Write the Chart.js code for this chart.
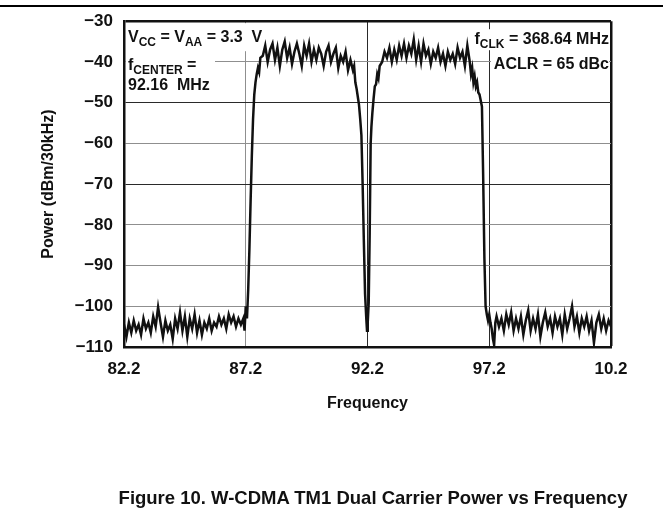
<!DOCTYPE html>
<html><head><meta charset="utf-8">
<script src="https://cdn.jsdelivr.net/npm/chart.js@4"></script>
<style>
html,body{margin:0;padding:0;background:#fff;}
#wrap{position:relative;width:671px;height:525px;overflow:hidden;}
canvas{position:absolute;left:0;top:0;}
#rule{position:absolute;left:0;top:5px;width:663px;height:2px;background:#000;}
#cap{position:absolute;left:0;width:746px;top:488px;text-align:center;font:bold 18.5px "Liberation Sans",Arial,sans-serif;line-height:20px;color:#111;white-space:nowrap;}
</style></head><body>
<div id="wrap"><canvas id="c" width="671" height="525"></canvas><div id="rule"></div><div id="cap">Figure 10. W-CDMA TM1 Dual Carrier Power vs Frequency</div></div>
<script>
const freqMHz = [
  82.2,82.3,82.4,82.5,82.6,82.7,82.8,82.9,83.0,83.1,83.2,83.3,83.4,83.5,83.6,83.7,83.8,83.9,84.0,84.1,
  84.2,84.3,84.4,84.5,84.6,84.7,84.8,84.9,85.0,85.1,85.2,85.3,85.4,85.5,85.6,85.7,85.8,85.9,86.0,86.1,
  86.2,86.3,86.4,86.5,86.6,86.7,86.8,86.9,87.0,87.1,87.15,87.2,
  87.25,87.3,87.35,87.4,87.45,87.5,87.55,87.6,87.65,87.7,87.75,87.8,87.9,
  88.0,88.1,88.2,88.3,88.4,88.5,88.6,88.7,88.8,88.9,89.0,89.1,89.2,89.3,89.4,89.5,89.6,89.7,89.8,89.9,
  90.0,90.1,90.2,90.3,90.4,90.5,90.6,90.7,90.8,90.9,91.0,91.1,91.2,91.3,91.4,91.5,
  91.6,91.65,91.7,91.75,91.8,91.85,91.9,91.95,92.0,92.05,92.1,92.15,92.18,92.21,92.25,92.29,92.33,92.36,
  92.4,92.45,92.5,92.55,92.6,92.65,92.7,92.8,92.9,
  93.0,93.1,93.2,93.3,93.4,93.5,93.6,93.7,93.8,93.9,94.0,94.1,94.2,94.3,94.4,94.5,94.6,94.7,94.8,94.9,
  95.0,95.1,95.2,95.3,95.4,95.5,95.6,95.7,95.8,95.9,96.0,96.1,96.2,96.3,96.4,
  96.45,96.5,96.55,96.6,96.65,96.7,96.75,96.8,96.85,96.9,96.95,97.0,97.05,97.1,97.15,97.2,97.25,97.3,97.35,97.4,97.45,
  97.5,97.6,97.7,97.8,97.9,98.0,98.1,98.2,98.3,98.4,98.5,98.6,98.7,98.8,98.9,99.0,99.1,99.2,99.3,99.4,
  99.5,99.6,99.7,99.8,99.9,100.0,100.1,100.2,100.3,100.4,100.5,100.6,100.7,100.8,100.9,101.0,101.1,101.2,101.3,101.4,
  101.5,101.6,101.7,101.8,101.9,102.0,102.1,102.2
];
const powerDbm = [
  -104.5,-107.5,-104,-106.5,-103.5,-106,-104.5,-107,-103,-105.5,-104,-106.5,-102.5,-105,-100.2,-104,-107.5,-103.5,-106,-104.5,
  -108,-103,-105.5,-101.5,-106,-102.5,-107.5,-103,-105.5,-102,-106.5,-103.5,-107,-104,-105.5,-103,-106,-104,-105,-102.5,
  -104.5,-103,-105.5,-102,-104,-102.5,-105,-103,-104.5,-103,-106,-100,
  -103,-96,-86,-74,-63,-54,-48,-45,-43,-41.5,-42.5,-39,-38.5,
  -36,-40,-37,-35.5,-39.5,-36.5,-41,-37,-35,-39,-36.5,-40.5,-37.5,-35.5,-38,-41,-36,-38.5,-35.5,-40,
  -37,-39.5,-36.5,-38,-41,-37.5,-36,-40,-38,-36.5,-41.5,-38.5,-40,-37.5,-42,-39.5,
  -42,-41,-45,-46.5,-48.5,-50.5,-54,-58,-70,-84,-97,-103,-106,-104,-99,-82,-60,-56,
  -52.5,-49,-46,-45.5,-43,-44,-41,-40,-37.5,
  -39,-36.5,-40,-37,-39.5,-36,-38.5,-35.5,-39,-36,-38,-34.5,-39.5,-36,-40,-35.5,-38.5,-37,-40.5,-37.5,
  -39,-36.5,-40,-38,-41,-37.5,-39.5,-38,-40.5,-36.5,-39,-37.5,-41,-36,-40,
  -43,-41.5,-45,-43.5,-46,-45,-47.5,-48,-49.5,-51,-68,-88,-100,-102,-103.5,-102,-104,-105.5,-108,-109.5,-104,
  -102.5,-105,-103,-106,-102,-104.5,-101.5,-106,-103,-105.5,-102.5,-107,-103.5,-101,-106,-103,-105.5,-102,-107.5,-104,
  -101.5,-105,-103,-106.5,-102.5,-105,-103,-107,-102,-105.5,-103,-100,-105,-102.5,-106.5,-103,-105,-102.5,-106,-103.5,
  -109,-104,-102,-105.5,-103,-106,-103.5,-105
];
const xTickValues = [82.2, 87.2, 92.2, 97.2, 102.2];
const xTickLabels = ['82.2', '87.2', '92.2', '97.2', '10.2'];
const yMin = -110, yMax = -30, yStep = 10;

const FONT = '"Liberation Sans", Arial, sans-serif';
const GRAY = '#8f8f8f', DARK = '#2a2a2a', BLACK = '#111';

function rich(ctx, parts, x, y, align) {
  const main = 'bold 16px ' + FONT, sub = 'bold 12px ' + FONT;
  let w = 0;
  parts.forEach(p => { ctx.font = p[1] ? sub : main; w += ctx.measureText(p[0]).width; });
  let cx = align === 'right' ? x - w : x;
  parts.forEach(p => {
    ctx.font = p[1] ? sub : main;
    ctx.fillText(p[0], cx, y + (p[1] ? 4 : 0));
    cx += ctx.measureText(p[0]).width;
  });
}

const notes = {
  id: 'notes',
  beforeDatasetsDraw(chart) {
    const {ctx, chartArea: a} = chart;
    ctx.save();
    ctx.fillStyle = '#fff';
    ctx.fillRect(a.left + 2, a.top + 2, 146, 28);
    ctx.fillRect(a.left + 2, a.top + 30, 89, 45);
    ctx.fillRect(a.right - 143, a.top + 8, 141, 21);
    ctx.fillRect(a.right - 120, a.top + 33, 118, 17);
    ctx.fillStyle = BLACK;
    ctx.textBaseline = 'alphabetic';
    ctx.textAlign = 'left';
    rich(ctx, [['V',0],['CC',1],[' = V',0],['AA',1],[' = 3.3  V',0]], a.left + 4, a.top + 21);
    rich(ctx, [['f',0],['CENTER',1],[' =',0]], a.left + 4, a.top + 49);
    rich(ctx, [['92.16  MHz',0]], a.left + 4, a.top + 69);
    rich(ctx, [['f',0],['CLK',1],[' = 368.64 MHz',0]], a.right - 2, a.top + 23, 'right');
    rich(ctx, [['ACLR = 65 dBc',0]], a.right - 2, a.top + 48, 'right');
    ctx.restore();
  }
};

const pts = freqMHz.map((f, i) => ({x: f, y: powerDbm[i]}));

new Chart(document.getElementById('c'), {
  type: 'line',
  data: { datasets: [{ data: pts, borderColor: BLACK, borderWidth: 2.5, pointRadius: 0, tension: 0, fill: false }] },
  options: {
    responsive: false, animation: false, devicePixelRatio: 1,
    layout: { padding: { left: 0, right: 60, top: 17, bottom: 112 } },
    plugins: { legend: { display: false }, tooltip: { enabled: false } },
    scales: {
      x: {
        type: 'linear', min: xTickValues[0], max: xTickValues[xTickValues.length - 1],
        afterBuildTicks(s) { s.ticks = xTickValues.map(v => ({value: v})); },
        afterFit(s) { s.height = 66; },
        ticks: { callback: (v, i) => xTickLabels[i], color: BLACK, padding: 12, maxRotation: 0, autoSkip: false,
                 font: { family: FONT, size: 17, weight: 'bold' } },
        grid: { drawTicks: false,
                color: c => { const v = c.tick && c.tick.value; if (v === 102.2 || v === 82.2) return BLACK; if (v === 92.2 || v === 97.2) return DARK; return GRAY; },
                lineWidth: c => { const v = c.tick && c.tick.value; return (v === 102.2) ? 2.5 : 1; } },
        border: { display: true, color: BLACK, width: 2.5 },
        title: { display: true, text: 'Frequency', color: BLACK, padding: 0, font: { family: FONT, size: 16, weight: 'bold' } }
      },
      y: {
        min: yMin, max: yMax,
        ticks: { stepSize: yStep, color: BLACK, padding: 11,
                 callback: v => (v < 0 ? '\u2212' : '') + Math.abs(v),
                 font: { family: FONT, size: 17, weight: 'bold' } },
        afterFit(s) { s.width = 124; },
        grid: { drawTicks: false,
                color: c => { const v = c.tick && c.tick.value; if (v === -30 || v === -110) return BLACK; if (v === -50 || v === -70) return DARK; return GRAY; },
                lineWidth: c => { const v = c.tick && c.tick.value; return (v === -30) ? 2.5 : 1; } },
        border: { display: true, color: BLACK, width: 2.5 },
        title: { display: true, text: 'Power (dBm/30kHz)', color: BLACK, padding: { top: 39, bottom: 0 }, font: { family: FONT, size: 16, weight: 'bold' } }
      }
    }
  },
  plugins: [notes]
});
</script>
</body></html>
